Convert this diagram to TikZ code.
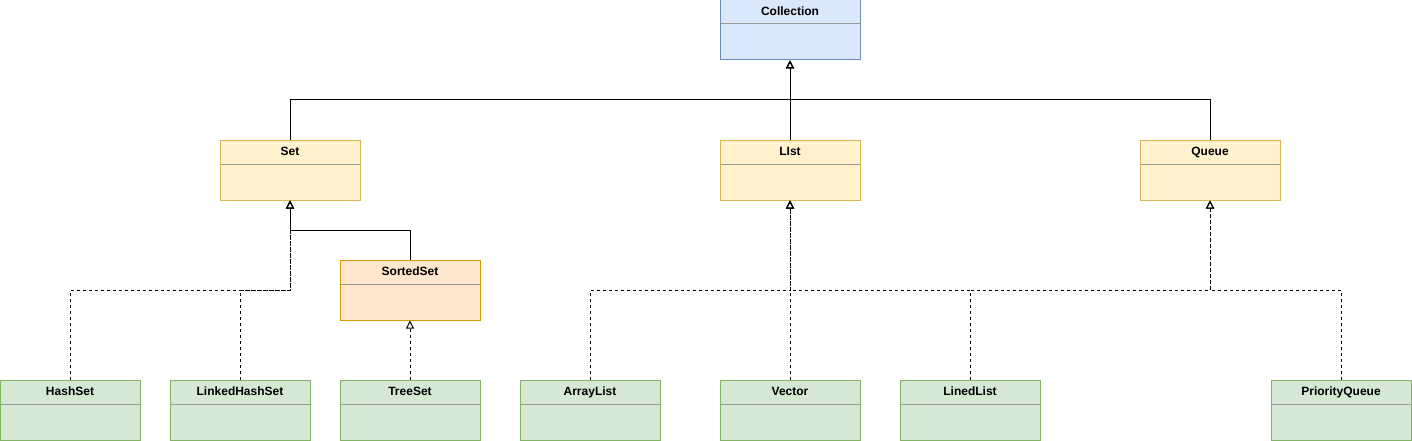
\documentclass[tikz,border=0pt]{standalone}
\usepackage{fontspec}
\setmainfont{Liberation Sans}
\usetikzlibrary{arrows.meta}
\definecolor{blueF}{HTML}{DAE8FC}\definecolor{blueD}{HTML}{6C8EBF}
\definecolor{yellowF}{HTML}{FFF2CC}\definecolor{yellowD}{HTML}{D6B656}
\definecolor{orangeF}{HTML}{FFE6CC}\definecolor{orangeD}{HTML}{D79B00}
\definecolor{greenF}{HTML}{D5E8D4}\definecolor{greenD}{HTML}{82B366}
\definecolor{sepgray}{HTML}{999999}
\tikzset{
  umlclass/.style={draw=#1D,fill=#1F,line width=1pt,minimum width=140pt,minimum height=60pt,inner sep=0pt,
    path picture={\draw[sepgray,line width=1pt]([yshift=-24pt]path picture bounding box.north west)--([yshift=-24pt]path picture bounding box.north east);}},
  umltitle/.style={font=\fontsize{12}{14}\selectfont\bfseries,anchor=center,yshift=-12pt,inner sep=0pt,text height=8.6pt,text depth=0pt},
  inherit/.style={line width=1pt,-{Triangle[open,width=8pt,length=8pt]}},
  realize/.style={inherit,dash pattern=on 3pt off 3pt}
}
\newcommand{\umlnode}[4]{\node[umlclass=#1,label={[umltitle]north:#4}] (#2) at #3 {};}
\begin{document}
\begin{tikzpicture}[x=1pt,y=1pt]
\useasboundingbox (0,0) rectangle (1412,-441);
\umlnode{blue}{coll}{(790,-30)}{Collection}
\umlnode{yellow}{set}{(290,-170)}{Set}
\umlnode{yellow}{list}{(790,-170)}{LIst}
\umlnode{yellow}{queue}{(1210,-170)}{Queue}
\umlnode{orange}{sorted}{(410,-290)}{SortedSet}
\umlnode{green}{hash}{(70,-410)}{HashSet}
\umlnode{green}{lhash}{(240,-410)}{LinkedHashSet}
\umlnode{green}{tree}{(410,-410)}{TreeSet}
\umlnode{green}{alist}{(590,-410)}{ArrayList}
\umlnode{green}{vector}{(790,-410)}{Vector}
\umlnode{green}{llist}{(970,-410)}{LinedList}
\umlnode{green}{pqueue}{(1341,-410)}{PriorityQueue}
\coordinate (collbus) at (790,-100);
\coordinate (setbus) at (290,-230);
\coordinate (setdash) at (290,-290);
\coordinate (listdash) at (790,-290);
\coordinate (queuedash) at (1210,-290);
%interfaces
\draw[inherit] (set.north) |- (collbus) -- (coll.south);
\draw[inherit] (list.north) -- (coll.south);
\draw[inherit] (queue.north) |- (collbus) -- (coll.south);
\draw[inherit] (sorted.north) |- (setbus) -- (set.south);
%classes
\draw[realize] (hash.north) |- (setdash) -- (set.south);
\draw[realize] (lhash.north) |- (setdash) -- (set.south);
\draw[realize] (tree.north) -- (sorted.south);
\draw[realize] (alist.north) |- (listdash) -- (list.south);
\draw[realize] (vector.north) -- (list.south);
\draw[realize] (llist.north) |- (listdash) -- (list.south);
\draw[realize] (llist.north) |- (queuedash) -- (queue.south);
\draw[realize] (pqueue.north) |- (queuedash) -- (queue.south);
\end{tikzpicture}
\end{document}
